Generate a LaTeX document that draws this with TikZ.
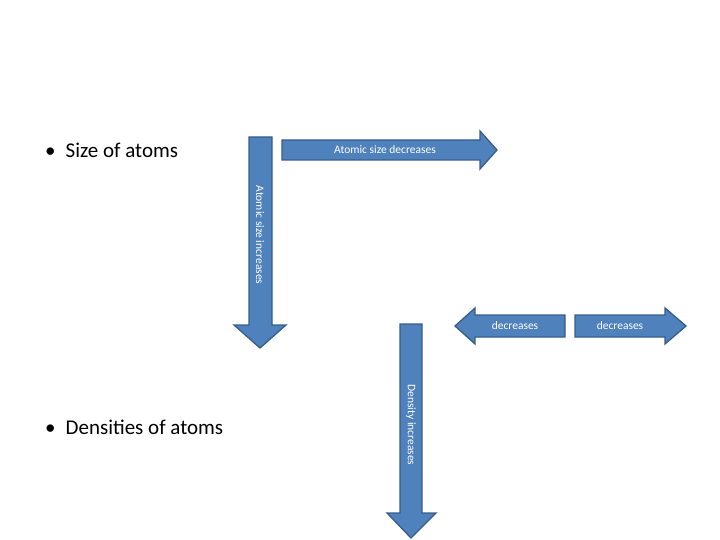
\documentclass[tikz,border=0pt]{standalone}
\usepackage{fontspec}
\setmainfont{Carlito}
\definecolor{afill}{HTML}{4F81BD}
\definecolor{aline}{HTML}{385D8A}
\begin{document}
\begin{tikzpicture}[x=1pt,y=-1pt,
  arr/.style={fill=afill,draw=aline,line width=1.3pt,line join=miter},
  lbl/.style={text=white,font=\fontsize{11.5}{13}\selectfont,inner sep=0pt},
  bul/.style={anchor=west,font=\fontsize{21}{25}\selectfont,inner sep=0pt}]
\useasboundingbox (0,0) rectangle (720,540);
% top horizontal arrow
\draw[arr] (282,140) -- (480,140) -- (480,131) -- (497,150) -- (480,169) -- (480,160) -- (282,160) -- cycle;
\node[lbl] (t1) at (385,150) {Atomic size decreases};
% vertical atomic size arrow
\draw[arr] (249,137) -- (272,137) -- (272,325) -- (286,325) -- (260,348) -- (234,325) -- (249,325) -- cycle;
\node[lbl,rotate=-90] (t2) at (260,235) {Atomic size increases};
% left decreases arrow
\draw[arr] (565,315) -- (475,315) -- (475,308) -- (455,326) -- (475,344) -- (475,337) -- (565,337) -- cycle;
\node[lbl] (t3) at (515,326) {decreases};
% right decreases arrow
\draw[arr] (575,315) -- (665,315) -- (665,308) -- (686,326) -- (665,344) -- (665,337) -- (575,337) -- cycle;
\node[lbl] (t4) at (620,326) {decreases};
% density arrow
\draw[arr] (400,324) -- (422,324) -- (422,513) -- (436,513) -- (411,538) -- (387,513) -- (400,513) -- cycle;
\node[lbl,rotate=-90] (t5) at (411,425) {Density increases};
% bullets
\node[bul] (b1) at (45,150) {•\hspace{10pt}Size of atoms};
\node[bul] (b2) at (45,427) {•\hspace{10pt}Densities of atoms};
\end{tikzpicture}
\end{document}
